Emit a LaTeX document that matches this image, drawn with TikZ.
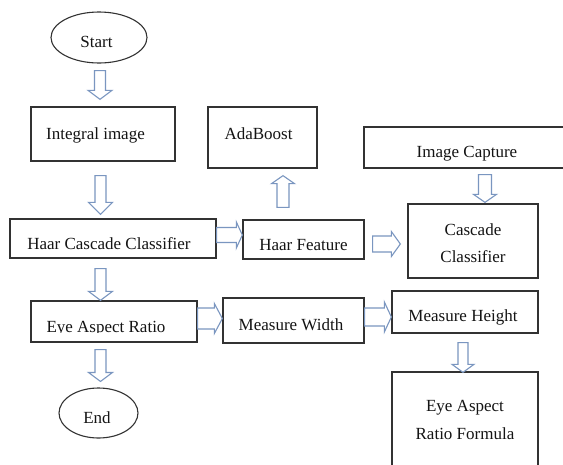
\documentclass[tikz,border=0pt]{standalone}
\usepackage{fontspec}
\setmainfont{Liberation Serif}
\usetikzlibrary{calc,shapes.geometric}
\definecolor{arrowblue}{RGB}{122,150,192}
\definecolor{boxline}{RGB}{50,50,50}
\definecolor{inkc}{RGB}{20,20,20}
\newcommand{\tshift}[3]{\raisebox{#2}[\height][\depth]{\hspace*{#1}#3\hspace*{-#1}}}
\newcommand{\twolines}[3]{\raisebox{#1}[\height][\depth]{\begin{tabular}{@{}c@{}}#2\\#3\end{tabular}}}
\tikzset{
  ba sw/.store in=\basw, ba hw/.store in=\bahw, ba hl/.store in=\bahl,
  ba sw=5.5pt, ba hw=12pt, ba hl=9pt,
  blockarrow/.style={draw=arrowblue, line width=1.1pt, fill=white, line join=miter,
    to path={let \p1=(\tikztostart), \p2=(\tikztotarget),
      \n1={veclen(\x2-\x1,\y2-\y1)}, \n2={atan2(\y2-\y1,\x2-\x1)} in
      ($(\p1)+({\n2+90}:{\basw})$)
      -- ($(\p1)+({\n2}:{\n1-\bahl})+({\n2+90}:{\basw})$)
      -- ($(\p1)+({\n2}:{\n1-\bahl})+({\n2+90}:{\bahw})$)
      -- (\p2)
      -- ($(\p1)+({\n2}:{\n1-\bahl})+({\n2-90}:{\bahw})$)
      -- ($(\p1)+({\n2}:{\n1-\bahl})+({\n2-90}:{\basw})$)
      -- ($(\p1)+({\n2-90}:{\basw})$)
      -- cycle}},
  box/.style={draw=boxline, line width=1.3pt, rectangle, inner sep=0pt, text=inkc,
    text height=11.5pt, text depth=0pt},
  mbox/.style={draw=boxline, line width=1.3pt, rectangle, inner sep=0pt, text=inkc,
    font=\fontsize{17}{27.5}\selectfont},
  oval/.style={draw=boxline, line width=1.1pt, ellipse, inner sep=0pt, text=inkc,
    text height=11.5pt, text depth=0pt},
  plain/.style={inner sep=0pt, text=inkc, text height=11.5pt, text depth=0pt}
}
\begin{document}
\begin{tikzpicture}[x=1pt,y=-1pt,font=\fontsize{17}{20.4}\selectfont]
\useasboundingbox (0,0) rectangle (563,464);
\clip (0,0) rectangle (563,464);
\fill[white] (0,0) rectangle (563,464);

% nodes
\node[oval, minimum width=96pt, minimum height=51pt] (start) at (99,37.5) {\tshift{-2.5pt}{-4pt}{Start}};
\node[box, minimum width=144pt, minimum height=54pt] (int) at (103,134) {\tshift{-7.5pt}{0pt}{Integral image}};
\node[box, minimum width=109pt, minimum height=61pt] (ada) at (262.5,137.5) {\tshift{-4pt}{3.5pt}{AdaBoost}};
\node[box, minimum width=206pt, minimum height=41pt] (cap) at (467,147.5) {\tshift{0pt}{-4.5pt}{Image Capture}};
\node[box, minimum width=206pt, minimum height=39pt] (hcc) at (113,238.5) {\tshift{-4pt}{-5.5pt}{Haar Cascade Classifier}};
\node[box, minimum width=121pt, minimum height=39pt] (hf) at (303.5,239.5) {\tshift{0pt}{-5pt}{Haar Feature}};
\node[mbox, minimum width=130pt, minimum height=74pt] (casc) at (473,241) {\twolines{-2.5pt}{Cascade}{Classifier}};
\node[box, minimum width=166pt, minimum height=41pt] (ear) at (114,321.5) {};
\begin{scope}
  \clip (31,302) rectangle (197,332.8);
  \node[plain] (eartext) at (106,327) {Eye Aspect Ratio};
\end{scope}
\node[box, minimum width=141pt, minimum height=45pt] (mw) at (293.5,320.5) {\tshift{-2.5pt}{-4.5pt}{Measure Width}};
\node[box, minimum width=146pt, minimum height=42pt] (mh) at (465,312) {\tshift{-2pt}{-3.5pt}{Measure Height}};
\node[mbox, minimum width=146pt, minimum height=95pt] (form) at (465,419.5) {\twolines{-0.5pt}{Eye Aspect}{Ratio Formula}};
\node[oval, minimum width=79pt, minimum height=50pt] (end) at (98.5,413) {\tshift{-1.5pt}{-4.5pt}{End}};

% arrow end points
\coordinate (a1s) at ([xshift=1pt,yshift=-7pt]start.south);
\coordinate (a1e) at ([xshift=-3pt,yshift=7pt]int.north);
\coordinate (a2s) at ([xshift=-2.5pt,yshift=-14pt]int.south);
\coordinate (a2e) at ([xshift=-12.5pt,yshift=4pt]hcc.north);
\coordinate (a3s) at ([xshift=-12.5pt,yshift=-10pt]hcc.south);
\coordinate (a3e) at ([xshift=-13.5pt,yshift=0pt]ear.north);
\coordinate (a4s) at ([xshift=-13.5pt,yshift=-7pt]ear.south);
\coordinate (a4e) at ([xshift=2pt,yshift=6pt]end.north);
\coordinate (a5s) at ([yshift=3.5pt]hcc.east);
\coordinate (a5e) at ([yshift=4.5pt]hf.west);
\coordinate (a6s) at ([xshift=-20.5pt,yshift=12pt]hf.north);
\coordinate (a6e) at ([xshift=20.5pt,yshift=-7pt]ada.south);
\coordinate (a7s) at ([xshift=8pt,yshift=-4.5pt]hf.east);
\coordinate (a7e) at ([xshift=-7pt,yshift=-3pt]casc.west);
\coordinate (a8s) at ([xshift=18pt,yshift=-6pt]cap.south);
\coordinate (a8e) at ([xshift=12pt,yshift=1pt]casc.north);
\coordinate (a9s) at ([yshift=3pt]ear.east);
\coordinate (a9e) at ([yshift=2pt]mw.west);
\coordinate (a10s) at ([yshift=3.5pt]mw.east);
\coordinate (a10e) at ([yshift=-5pt]mh.west);
\coordinate (a11s) at ([xshift=-2pt,yshift=-9pt]mh.south);
\coordinate (a11e) at ([xshift=-2pt,yshift=-1pt]form.north);

% block arrows
\draw[blockarrow] (a1s) to (a1e);
\draw[blockarrow, ba hl=12pt] (a2s) to (a2e);
\draw[blockarrow] (a3s) to (a3e);
\draw[blockarrow] (a4s) to (a4e);
\draw[blockarrow, ba sw=7.5pt, ba hw=13pt, ba hl=6pt] (a5s) to (a5e);
\draw[blockarrow, ba sw=6pt, ba hw=11.5pt, ba hl=8pt] (a6s) to (a6e);
\draw[blockarrow, ba sw=8pt, ba hw=12.5pt, ba hl=9pt] (a7s) to (a7e);
\draw[blockarrow, ba sw=6.5pt, ba hw=11.5pt, ba hl=8pt] (a8s) to (a8e);
\draw[blockarrow, ba sw=10.5pt, ba hw=15pt, ba hl=8pt] (a9s) to (a9e);
\draw[blockarrow, ba sw=9pt, ba hw=15pt, ba hl=7pt] (a10s) to (a10e);
\draw[blockarrow, ba sw=5pt, ba hw=11pt, ba hl=8pt] (a11s) to (a11e);
\end{tikzpicture}
\end{document}
